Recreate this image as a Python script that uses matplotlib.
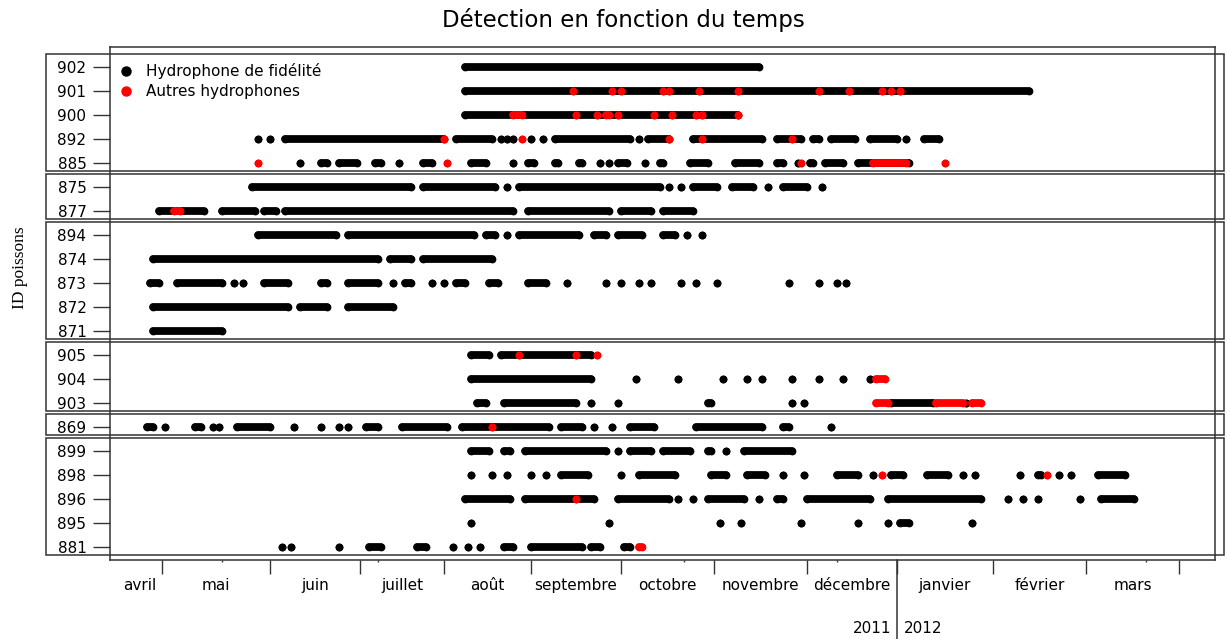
import matplotlib
matplotlib.use("Agg")
import matplotlib.pyplot as plt
import numpy as np
from matplotlib.lines import Line2D
from matplotlib.patches import Rectangle
from matplotlib.transforms import blended_transform_factory

# x values: days since 2011-04-01; runs of daily detections as (first, last) day
fish_ids = ["902", "901", "900", "892", "885",
            "875", "877",
            "894", "874", "873", "872", "871",
            "905", "904", "903",
            "869",
            "899", "898", "896", "895", "881"]
group_sizes = [5, 2, 5, 3, 1, 5]

f902_black = [(131, 229)]
f902_red = []
f901_black = [(131, 319)]
f901_red = [(167, 167), (180, 180), (183, 183), (197, 197), (199, 199), (209, 209),
            (222, 222), (249, 249), (259, 259), (270, 270), (273, 273), (276, 276)]
f900_black = [(131, 222)]
f900_red = [(147, 150), (168, 168), (175, 175), (178, 179), (182, 182), (194, 194),
            (200, 200), (208, 208), (210, 210), (222, 222)]
f892_black = [(62, 62), (66, 66), (71, 124), (128, 140), (143, 143), (145, 145), (147, 147),
              (153, 153), (157, 157), (161, 186), (189, 189), (192, 199), (207, 230),
              (235, 243), (247, 249), (253, 261), (266, 275), (278, 278), (284, 289)]
f892_red = [(124, 124), (150, 150), (199, 199), (210, 210), (240, 240)]
f885_black = [(76, 76), (83, 85), (89, 95), (101, 103), (109, 109), (117, 120), (133, 138),
              (147, 147), (152, 154), (161, 162), (169, 170), (176, 176), (179, 179),
              (182, 185), (191, 191), (196, 197), (206, 212), (221, 229), (235, 237),
              (242, 242), (246, 247), (251, 257), (262, 279)]
f885_red = [(62, 62), (125, 125), (243, 243), (267, 278), (291, 291)]
f875_black = [(60, 113), (117, 141), (145, 145), (149, 196), (199, 199), (203, 203),
              (207, 215), (220, 227), (232, 232), (237, 245), (250, 250)]
f875_red = []
f877_black = [(29, 44), (50, 61), (64, 68), (71, 147), (152, 179), (183, 193), (197, 207)]
f877_red = [(34, 36)]
f894_black = [(62, 88), (92, 134), (138, 141), (145, 145), (149, 169), (174, 178),
              (182, 190), (197, 201), (205, 205), (210, 210)]
f894_red = []
f874_black = [(27, 102), (106, 113), (117, 140)]
f874_red = []
f873_black = [(26, 29), (35, 50), (54, 54), (57, 57), (64, 72), (83, 85), (92, 102),
              (107, 107), (111, 113), (120, 120), (124, 124), (128, 131), (139, 142),
              (152, 158), (165, 165), (178, 178), (183, 183), (189, 189), (193, 193),
              (203, 203), (208, 208), (215, 215), (239, 239), (249, 249), (255, 255),
              (258, 258)]
f873_red = []
f872_black = [(27, 72), (76, 85), (92, 107)]
f872_red = []
f871_black = [(27, 50)]
f871_red = []
f905_black = [(133, 139), (143, 173)]
f905_red = [(149, 149), (168, 168), (175, 175)]
f904_black = [(133, 173), (188, 188), (202, 202), (217, 217), (225, 225), (230, 230),
              (240, 240), (249, 249), (257, 257), (266, 266)]
f904_red = [(268, 271)]
f903_black = [(135, 138), (144, 168), (173, 173), (182, 182), (212, 213), (240, 240),
              (244, 244), (273, 287), (298, 298)]
f903_red = [(268, 272), (288, 297), (300, 303)]
f869_black = [(25, 27), (31, 31), (41, 43), (47, 47), (49, 49), (55, 66), (74, 74), (83, 83),
              (89, 89), (92, 92), (98, 102), (110, 125), (130, 159), (163, 170), (174, 174),
              (180, 180), (186, 194), (208, 230), (237, 239), (253, 253)]
f869_red = [(140, 140)]
f899_black = [(133, 139), (144, 146), (151, 178), (182, 182), (186, 193), (197, 206),
              (212, 213), (218, 218), (224, 240)]
f899_red = []
f898_black = [(133, 133), (140, 140), (145, 145), (153, 153), (158, 158), (163, 172),
              (183, 183), (189, 201), (213, 218), (225, 231), (237, 237), (244, 244),
              (255, 262), (267, 267), (273, 277), (285, 292), (297, 297), (301, 301),
              (316, 316), (322, 323), (329, 329), (333, 333), (342, 351)]
f898_red = [(270, 270), (325, 325)]
f896_black = [(131, 146), (151, 174), (182, 199), (202, 202), (207, 207), (212, 224),
              (229, 229), (235, 237), (245, 266), (272, 303), (312, 312), (317, 317),
              (322, 322), (336, 336), (343, 354)]
f896_red = [(168, 168)]
f895_black = [(133, 133), (179, 179), (216, 216), (223, 223), (243, 243), (262, 262),
              (272, 272), (276, 279), (300, 300)]
f895_red = []
f881_black = [(70, 70), (73, 73), (89, 89), (99, 103), (115, 118), (127, 127), (132, 132),
              (136, 136), (144, 147), (153, 170), (173, 176), (184, 186)]
f881_red = [(189, 190)]

black_runs = [f902_black, f901_black, f900_black, f892_black, f885_black,
              f875_black, f877_black,
              f894_black, f874_black, f873_black, f872_black, f871_black,
              f905_black, f904_black, f903_black,
              f869_black,
              f899_black, f898_black, f896_black, f895_black, f881_black]
red_runs = [f902_red, f901_red, f900_red, f892_red, f885_red,
            f875_red, f877_red,
            f894_red, f874_red, f873_red, f872_red, f871_red,
            f905_red, f904_red, f903_red,
            f869_red,
            f899_red, f898_red, f896_red, f895_red, f881_red]

month_names = ["avril", "mai", "juin", "juillet", "août", "septembre", "octobre",
               "novembre", "décembre", "janvier", "février", "mars"]
month_edges = [15, 30, 66, 96, 124, 153, 183, 214, 245, 275, 307, 338, 369]
minor_days = [50, 102, 204, 255, 358]
year_split = 275


def run_path(runs, row):
    xs, ys = [], []
    for first, last in runs:
        xs += [first, last, np.nan]
        ys += [row, row, np.nan]
    return xs, ys


fig = plt.figure(figsize=(12.27, 6.39), dpi=100)
ax = fig.add_axes([110 / 1227, 1 - 560 / 639, 1105 / 1227, 513 / 639])
frame = "#333333"

for row, (black, red) in enumerate(zip(black_runs, red_runs)):
    xs, ys = run_path(black, row)
    ax.plot(xs, ys, color="black", lw=5.6, marker="o", ms=5.6, mew=0, solid_capstyle="round")
    if red:
        xs, ys = run_path(red, row)
        ax.plot(xs, ys, color="red", lw=5.6, marker="o", ms=5.6, mew=0, solid_capstyle="round")

ax.set_xlim(12.7, 381)
ax.set_ylim(len(fish_ids) - 0.46, -0.83)

# panel boxes around each group of fish
side = blended_transform_factory(ax.transAxes, ax.transData)
start = 0
for size in group_sizes:
    top = start - 0.55
    ax.add_patch(Rectangle((-0.058, top), 1.0661, size - 1 + 0.9, transform=side,
                           fill=False, ec=frame, lw=1.1, clip_on=False))
    start += size

ax.set_yticks(range(len(fish_ids)))
ax.set_yticklabels(fish_ids)
ax.tick_params(axis="y", length=12.5, width=1, pad=4.5, labelsize=11, color=frame)
ax.set_xticks(month_edges[1:])
ax.set_xticklabels([])
ax.set_xticks(minor_days, minor=True)
ax.tick_params(axis="x", which="major", length=10, width=1, color=frame)
ax.tick_params(axis="x", which="minor", length=1.5, width=1, color=frame)
for spine in ax.spines.values():
    spine.set_color(frame)
    spine.set_linewidth(1.1)

below = blended_transform_factory(ax.transData, ax.transAxes)
for name, left, right in zip(month_names, month_edges[:-1], month_edges[1:]):
    ax.text((left + right) / 2, -0.049, name, transform=below, ha="center", va="center", fontsize=11)
ax.plot([year_split, year_split], [0, -0.16], transform=below, color=frame, lw=1.1, clip_on=False)
ax.text(year_split - 2, -0.133, "2011", transform=below, ha="right", va="center", fontsize=11)
ax.text(year_split + 2.2, -0.133, "2012", transform=below, ha="left", va="center", fontsize=11)

handles = [Line2D([], [], ls="none", marker="o", color="black", ms=6.5),
           Line2D([], [], ls="none", marker="o", color="red", ms=6.5)]
ax.legend(handles, ["Hydrophone de fidélité", "Autres hydrophones"], loc="upper left",
          bbox_to_anchor=(0.008, 0.968), frameon=False, fontsize=11, borderpad=0,
          borderaxespad=0, handlelength=1.0, handletextpad=0.8, labelspacing=0.3)

fig.text(0.508, 1 - 20 / 639, "Détection en fonction du temps", ha="center", va="center", fontsize=16.5)
fig.text(20 / 1227, 1 - 268 / 639, "ID poissons", rotation=90, ha="center", va="center",
         fontsize=12.5, family="Liberation Serif")

fig.savefig("out.png", dpi=100)
